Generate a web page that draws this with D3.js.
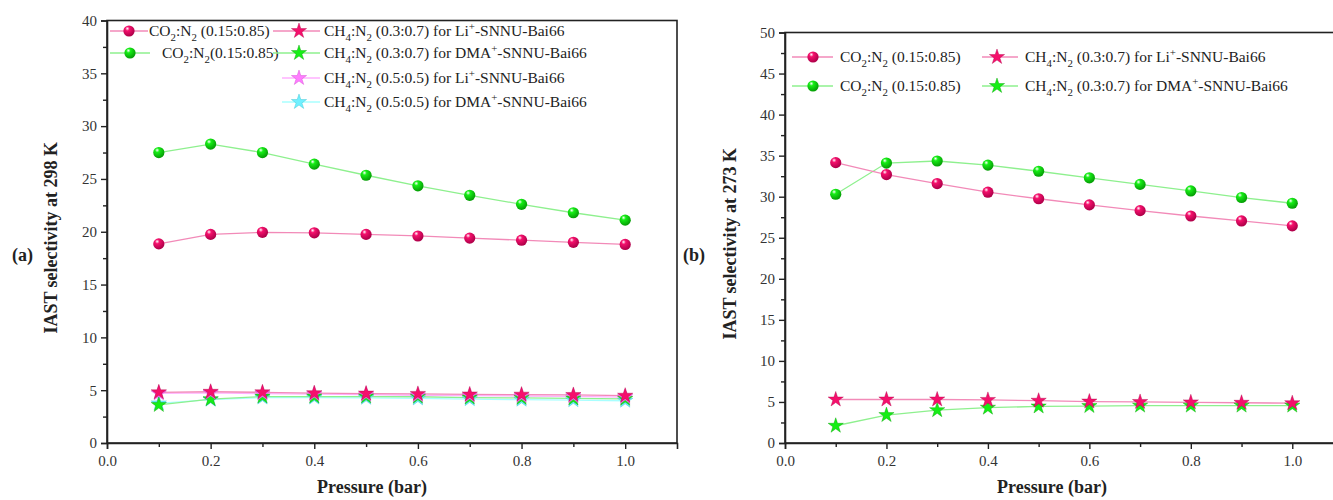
<!DOCTYPE html>
<html>
<head>
<meta charset="utf-8">
<script src="https://cdn.jsdelivr.net/npm/d3@7"></script>
<style>
  html, body { margin: 0; padding: 0; background: #fff; }
  svg { display: block; }
  svg text { font-family: "Liberation Serif", "Times New Roman", serif; }
</style>
</head>
<body>
<svg id="chart" width="1333" height="500"></svg>
<script>
// ---- data ----
const pressure = [0.1, 0.2, 0.3, 0.4, 0.5, 0.6, 0.7, 0.8, 0.9, 1.0];

// (a) 298 K
const a_co2_li   = [18.85, 19.75, 19.95, 19.9, 19.75, 19.6, 19.4, 19.2, 19.0, 18.8];
const a_co2_dma  = [27.5, 28.3, 27.5, 26.4, 25.35, 24.35, 23.45, 22.6, 21.8, 21.1];
const a_ch4_37_li  = [4.8, 4.85, 4.8, 4.72, 4.68, 4.65, 4.6, 4.58, 4.55, 4.48];
const a_ch4_37_dma = [3.6, 4.15, 4.4, 4.4, 4.4, 4.38, 4.3, 4.27, 4.22, 4.18];
const a_ch4_55_li  = [4.7, 4.75, 4.68, 4.62, 4.58, 4.52, 4.48, 4.45, 4.42, 4.35];
const a_ch4_55_dma = [3.75, 4.1, 4.3, 4.3, 4.28, 4.22, 4.15, 4.1, 4.05, 4.0];

// (b) 273 K
const b_co2_li   = [34.15, 32.7, 31.6, 30.55, 29.75, 29.0, 28.3, 27.65, 27.05, 26.45];
const b_co2_dma  = [30.3, 34.1, 34.35, 33.85, 33.1, 32.3, 31.5, 30.7, 29.9, 29.2];
const b_ch4_li   = [5.3, 5.3, 5.3, 5.25, 5.15, 5.05, 5.0, 4.95, 4.9, 4.85];
const b_ch4_dma  = [2.1, 3.4, 4.0, 4.3, 4.45, 4.5, 4.55, 4.55, 4.55, 4.55];

// legend labels (_x = subscript, ^x = superscript)
const labCO2a  = "CO_2:N_2 (0.15:0.85)";
const labCO2b  = "CO_2:N_2(0.15:0.85)";
const labCO2   = "CO_2:N_2 (0.15:0.85)";
const labCH4Li37  = "CH_4:N_2 (0.3:0.7) for Li^+-SNNU-Bai66";
const labCH4Dma37 = "CH_4:N_2 (0.3:0.7) for DMA^+-SNNU-Bai66";
const labCH4Li55  = "CH_4:N_2 (0.5:0.5) for Li^+-SNNU-Bai66";
const labCH4Dma55 = "CH_4:N_2 (0.5:0.5) for DMA^+-SNNU-Bai66";

const xTicks = [0.0, 0.2, 0.4, 0.6, 0.8, 1.0];
const yTicksA = [0, 5, 10, 15, 20, 25, 30, 35, 40];
const yTicksB = [0, 5, 10, 15, 20, 25, 30, 35, 40, 45, 50];

// ---- styles ----
const FONT = "Liberation Serif";
const PINK = { line: "#f28ab8", mark: "#f5106c", dark: "#b0004a" };
const GREEN = { line: "#8ef08e", mark: "#16ee16", dark: "#06a006" };
const VIOLET = { line: "#ffb0ff", mark: "#ff7cff", dark: "#d040d0" };
const CYAN = { line: "#a8ffff", mark: "#70f0ff", dark: "#30c0d0" };

const svg = d3.select("#chart");
const defs = svg.append("defs");

function sphereGrad(id, c) {
  const g = defs.append("radialGradient").attr("id", id)
    .attr("cx", "38%").attr("cy", "32%").attr("r", "65%").attr("fx", "35%").attr("fy", "28%");
  g.append("stop").attr("offset", "0%").attr("stop-color", "#ffffff");
  g.append("stop").attr("offset", "30%").attr("stop-color", c.mark);
  g.append("stop").attr("offset", "100%").attr("stop-color", c.dark);
}
sphereGrad("sph-pink", PINK);
sphereGrad("sph-green", GREEN);

const starPath = d3.symbol().type(d3.symbolStar).size(72)();

// rich text: _x subscript, ^x superscript (offset restored on the next run)
function richText(sel, str) {
  const runs = [];
  let i = 0;
  while (i < str.length) {
    const ch = str[i];
    if ((ch === "_" || ch === "^") && i + 1 < str.length) {
      runs.push({ t: str[i + 1], shift: ch === "_" ? 5 : -6 });
      i += 2;
    } else {
      let j = i;
      while (j < str.length && str[j] !== "_" && str[j] !== "^") j++;
      runs.push({ t: str.slice(i, j), shift: 0 });
      i = j;
    }
  }
  let cur = 0;
  runs.forEach(r => {
    const ts = sel.append("tspan").attr("dy", r.shift - cur).text(r.t);
    if (r.shift !== 0) ts.attr("font-size", "0.7em");
    cur = r.shift;
  });
}

function marker(g, kind, c, x, y) {
  if (kind === "sphere") {
    g.append("circle").attr("cx", x).attr("cy", y).attr("r", 5.6)
      .attr("fill", `url(#sph-${c === PINK ? "pink" : "green"})`);
  } else {
    g.append("path").attr("d", starPath)
      .attr("transform", `translate(${x},${y})`)
      .attr("fill", c.mark).attr("stroke", c.dark).attr("stroke-width", 0.4);
  }
}

function panel(cfg) {
  const x = d3.scaleLinear().domain([0, 1.1]).range([cfg.left, cfg.right]);
  const y = d3.scaleLinear().domain([0, cfg.ymax]).range([cfg.bottom, cfg.top]);
  const g = svg.append("g");

  // frame
  g.append("rect").attr("x", cfg.left).attr("y", cfg.top)
    .attr("width", cfg.right - cfg.left).attr("height", cfg.bottom - cfg.top)
    .attr("fill", "none").attr("stroke", "#222").attr("stroke-width", 1.6);

  // x axis
  g.append("g").attr("transform", `translate(0,${cfg.bottom})`)
    .call(d3.axisBottom(x).tickValues(xTicks).tickFormat(d3.format(".1f")).tickSize(6).tickPadding(6));
  g.append("g").attr("transform", `translate(0,${cfg.bottom})`)
    .call(d3.axisBottom(x).tickValues(d3.range(0.1, 1.1, 0.2)).tickFormat("").tickSize(4))
    .call(s => s.select(".domain").remove());
  // y axis
  g.append("g").attr("transform", `translate(${cfg.left},0)`)
    .call(d3.axisLeft(y).tickValues(cfg.yTicks).tickSize(6).tickPadding(4));
  g.append("g").attr("transform", `translate(${cfg.left},0)`)
    .call(d3.axisLeft(y).tickValues(cfg.yTicks.slice(0, -1).map(v => v + 2.5)).tickFormat("").tickSize(4))
    .call(s => s.select(".domain").remove());
  g.selectAll(".tick line").attr("stroke", "#222").attr("stroke-width", 1.4);
  g.selectAll(".domain").attr("stroke", "#222").attr("stroke-width", 1.6);
  g.selectAll("g").attr("font-family", FONT);
  g.selectAll(".tick text").attr("font-family", FONT).attr("font-size", 15).attr("fill", "#333");

  // titles
  g.append("text").attr("x", cfg.xTitleX).attr("y", 493).attr("text-anchor", "middle")
    .attr("font-family", FONT).attr("font-weight", "bold").attr("font-size", 18).attr("fill", "#222")
    .text("Pressure (bar)");
  g.append("text").attr("transform", `translate(${cfg.yTitleX},${(cfg.top + cfg.bottom) / 2 + 6}) rotate(-90)`)
    .attr("text-anchor", "middle").attr("font-family", FONT).attr("font-weight", "bold")
    .attr("font-size", 18).attr("fill", "#222").text(cfg.yTitle);
  g.append("text").attr("x", cfg.tagX).attr("y", 261).attr("font-family", FONT).attr("font-weight", "bold")
    .attr("font-size", 18).attr("fill", "#222").text(cfg.tag);

  // series
  const line = d3.line().x((d, i) => x(pressure[i])).y(d => y(d));
  cfg.series.forEach(s => {
    g.append("path").datum(s.values).attr("d", line)
      .attr("fill", "none").attr("stroke", s.c.line).attr("stroke-width", 1.3);
  });
  cfg.series.forEach(s => {
    s.values.forEach((v, i) => marker(g, s.kind, s.c, x(pressure[i]), y(v)));
  });

  // legend
  cfg.legend.forEach(L => {
    g.append("line").attr("x1", L.x1).attr("x2", L.x2).attr("y1", L.y).attr("y2", L.y)
      .attr("stroke", L.c.line).attr("stroke-width", 1.3);
    marker(g, L.kind, L.c, L.mx, L.y);
    const t = g.append("text").attr("x", L.tx).attr("y", L.y + 5)
      .attr("font-family", FONT).attr("font-size", cfg.legendSize).attr("fill", "#222");
    richText(t, L.label);
  });
}

panel({
  left: 107, right: 677, top: 20.5, bottom: 443, ymax: 40, yTicks: yTicksA,
  xTitleX: 372, yTitleX: 57, yTitle: "IAST selectivity at 298 K", tag: "(a)", tagX: 12,
  legendSize: 15.5,
  series: [
    { values: a_co2_dma, c: GREEN, kind: "sphere" },
    { values: a_co2_li, c: PINK, kind: "sphere" },
    { values: a_ch4_55_dma, c: CYAN, kind: "star" },
    { values: a_ch4_37_dma, c: GREEN, kind: "star" },
    { values: a_ch4_55_li, c: VIOLET, kind: "star" },
    { values: a_ch4_37_li, c: PINK, kind: "star" }
  ],
  legend: [
    { x1: 110, x2: 148, mx: 129, y: 31, c: PINK, kind: "sphere", tx: 149, label: labCO2a },
    { x1: 110, x2: 150, mx: 130, y: 53, c: GREEN, kind: "sphere", tx: 162, label: labCO2b },
    { x1: 273, x2: 320, mx: 299, y: 31, c: PINK, kind: "star", tx: 324, label: labCH4Li37 },
    { x1: 273, x2: 320, mx: 299, y: 53, c: GREEN, kind: "star", tx: 324, label: labCH4Dma37 },
    { x1: 282, x2: 320, mx: 299, y: 78, c: VIOLET, kind: "star", tx: 324, label: labCH4Li55 },
    { x1: 282, x2: 320, mx: 299, y: 102, c: CYAN, kind: "star", tx: 324, label: labCH4Dma55 }
  ]
});

panel({
  left: 785, right: 1343, top: 32.5, bottom: 443, ymax: 50, yTicks: yTicksB,
  xTitleX: 1052, yTitleX: 736, yTitle: "IAST selectivity at 273 K", tag: "(b)", tagX: 683,
  legendSize: 15.5,
  series: [
    { values: b_co2_dma, c: GREEN, kind: "sphere" },
    { values: b_co2_li, c: PINK, kind: "sphere" },
    { values: b_ch4_dma, c: GREEN, kind: "star" },
    { values: b_ch4_li, c: PINK, kind: "star" }
  ],
  legend: [
    { x1: 792, x2: 833, mx: 813, y: 57, c: PINK, kind: "sphere", tx: 840, label: labCO2 },
    { x1: 792, x2: 833, mx: 813, y: 86, c: GREEN, kind: "sphere", tx: 840, label: labCO2 },
    { x1: 982, x2: 1018, mx: 997, y: 57, c: PINK, kind: "star", tx: 1025, label: labCH4Li37 },
    { x1: 982, x2: 1018, mx: 997, y: 86, c: GREEN, kind: "star", tx: 1025, label: labCH4Dma37 }
  ]
});
</script>
</body>
</html>
